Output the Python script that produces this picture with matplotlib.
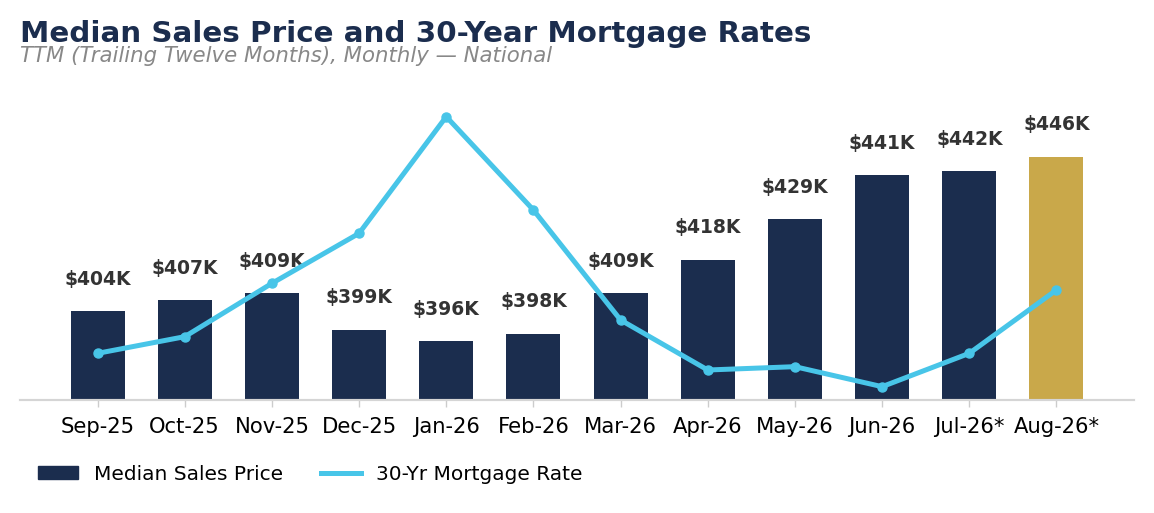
import numpy as np
import matplotlib
matplotlib.use("Agg")
import matplotlib.pyplot as plt
from matplotlib.patches import Patch
from matplotlib.lines import Line2D

plt.rcParams['font.family'] = ['DejaVu Sans']

# Dados do gráfico
months = ["Sep-25", "Oct-25", "Nov-25", "Dec-25", "Jan-26", "Feb-26",
          "Mar-26", "Apr-26", "May-26", "Jun-26", "Jul-26*", "Aug-26*"]
price_k = [404, 407, 409, 399, 396, 398, 409, 418, 429, 441, 442, 446]
mortgage_rate = [6.14, 6.19, 6.35, 6.50, 6.85, 6.57, 6.24, 6.09, 6.10, 6.04, 6.14, 6.33]
price_labels = ["$%dK" % v for v in price_k]

navy = "#1b2d4e"
gold = "#c9a84a"
cyan = "#48c5e8"
bar_colors = [navy] * (len(months) - 1) + [gold]

fig = plt.figure(figsize=(11.54, 5.13), dpi=100)
ax = fig.add_axes([20 / 1154, 1 - 400 / 513, 1114 / 1154, 315 / 513])
ax2 = ax.twinx()

x = np.arange(len(months))
ax.bar(x, price_k, width=0.62, color=bar_colors, label="Median Sales Price", zorder=2)
ax.set_ylim(380, 465.4)
ax.set_xlim(-0.89, 11.89)

for xi, v, lab in zip(x, price_k, price_labels):
    ax.annotate(lab, (xi, v), xytext=(0, 23), textcoords="offset points",
                ha="center", va="center", fontsize=13.5, fontweight="bold", color="#333333")

ax2.plot(x, mortgage_rate, color=cyan, lw=3.6, marker="o", markersize=6.5,
         label="30-Yr Mortgage Rate", zorder=3)
ax2.set_ylim(6.0, 6.945)
ax2.set_yticks([])

ax.set_yticks([])
ax.set_xticks(x)
ax.set_xticklabels(months, fontsize=15.2)
ax.tick_params(axis="x", length=5, color="#cccccc", width=1, pad=7)
for a in (ax, ax2):
    for s in ("top", "left", "right"):
        a.spines[s].set_visible(False)
    a.spines["bottom"].set_color("#d5d5d5")
    a.spines["bottom"].set_linewidth(1.5)

fig.text(20 / 1154, 1 - 34 / 513, "Median Sales Price and 30-Year Mortgage Rates",
         fontsize=21.2, fontweight="bold", color=navy, va="center")
fig.text(20 / 1154, 1 - 56 / 513, "TTM (Trailing Twelve Months), Monthly — National",
         fontsize=15.3, style="italic", color="#888888", va="center")

handles = [Patch(color=navy), Line2D([], [], color=cyan, lw=3.6)]
fig.legend(handles, ["Median Sales Price", "30-Yr Mortgage Rate"], loc="center left",
           bbox_to_anchor=(20 / 1154, 1 - 474 / 513), ncol=2, frameon=False,
           fontsize=14.5, handlelength=2.0, handleheight=0.65, handletextpad=0.75,
           columnspacing=1.9)

fig.savefig("out.png", dpi=100)
